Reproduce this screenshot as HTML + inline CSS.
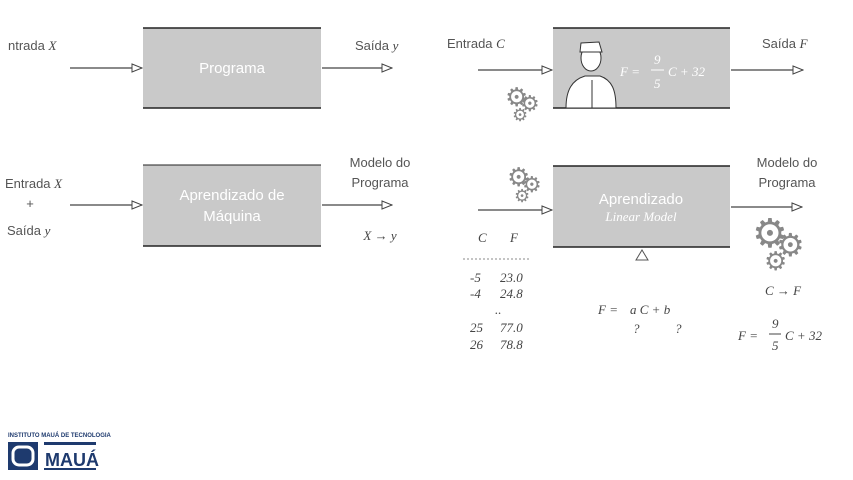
<!DOCTYPE html>
<html><head><meta charset="utf-8"><style>
html,body{margin:0;padding:0;background:#fff;width:853px;height:480px;overflow:hidden}
svg{display:block}
text{font-family:"Liberation Sans",sans-serif;}
.t{fill:#555;font-size:13px}
.w{fill:#fff;font-size:15px}
.m{font-family:"Liberation Serif",serif;font-style:italic;fill:#444;font-size:13px}
.g{fill:#888;font-family:"DejaVu Sans",sans-serif}
</style></head><body>
<svg width="853" height="480" viewBox="0 0 853 480" xmlns="http://www.w3.org/2000/svg">
<defs>
<marker id="a" markerWidth="12" markerHeight="10" refX="11" refY="5" orient="auto" markerUnits="userSpaceOnUse">
<path d="M1,1 L11,5 L1,9 Z" fill="#fff" stroke="#444" stroke-width="1"/>
</marker>
</defs>
<g>
<rect x="143" y="28" width="178" height="80" fill="#c9c9c9"/>
<line x1="143" y1="28" x2="321" y2="28" stroke="#222" stroke-width="1.5"/>
<line x1="143" y1="108" x2="321" y2="108" stroke="#222" stroke-width="1.5"/>
<rect x="143" y="165" width="178" height="81" fill="#c9c9c9"/>
<line x1="143" y1="165" x2="321" y2="165" stroke="#222" stroke-width="1"/>
<line x1="143" y1="246" x2="321" y2="246" stroke="#222" stroke-width="1.5"/>
<rect x="553" y="28" width="177" height="80" fill="#c9c9c9"/>
<line x1="553" y1="28" x2="730" y2="28" stroke="#222" stroke-width="1.5"/>
<line x1="553" y1="108" x2="730" y2="108" stroke="#222" stroke-width="1.5"/>
<rect x="553" y="166" width="177" height="81" fill="#c9c9c9"/>
<line x1="553" y1="166" x2="730" y2="166" stroke="#222" stroke-width="1.5"/>
<line x1="553" y1="247" x2="730" y2="247" stroke="#222" stroke-width="1.5"/>
</g>
<g stroke="#444" stroke-width="1.2" fill="none">
<line x1="70" y1="68" x2="142" y2="68" marker-end="url(#a)"/>
<line x1="322" y1="68" x2="392" y2="68" marker-end="url(#a)"/>
<line x1="70" y1="205" x2="142" y2="205" marker-end="url(#a)"/>
<line x1="322" y1="205" x2="392" y2="205" marker-end="url(#a)"/>
<line x1="478" y1="70" x2="552" y2="70" marker-end="url(#a)"/>
<line x1="731" y1="70" x2="803" y2="70" marker-end="url(#a)"/>
<line x1="478" y1="210" x2="552" y2="210" marker-end="url(#a)"/>
<line x1="731" y1="207" x2="802" y2="207" marker-end="url(#a)"/>
</g>
<path d="M636,260 L642,250 L648,260 Z" fill="#fff" stroke="#555" stroke-width="1"/>
<text class="t" x="8" y="50">ntrada <tspan class="m" font-size="14">X</tspan></text>
<text class="t" x="355" y="50">Saída <tspan class="m" font-size="14">y</tspan></text>
<text class="w" x="232" y="73" text-anchor="middle">Programa</text>
<text class="t" x="5" y="188">Entrada <tspan class="m" font-size="14">X</tspan></text>
<text class="t" x="30" y="208" text-anchor="middle">+</text>
<text class="t" x="7" y="235">Saída <tspan class="m" font-size="14">y</tspan></text>
<text class="w" x="232" y="200" text-anchor="middle">Aprendizado de</text>
<text class="w" x="232" y="221" text-anchor="middle">Máquina</text>
<text class="t" x="380" y="167" text-anchor="middle">Modelo do</text>
<text class="t" x="380" y="187" text-anchor="middle">Programa</text>
<text class="m" x="380" y="240" text-anchor="middle" font-size="14">X → y</text>
<text class="t" x="447" y="48">Entrada <tspan class="m" font-size="14">C</tspan></text>
<text class="t" x="762" y="48">Saída <tspan class="m" font-size="14">F</tspan></text>
<text class="m" x="620" y="76" style="fill:#fff" font-size="15">F =</text>
<text class="m" x="654" y="64" style="fill:#fff" font-size="13">9</text>
<line x1="651" y1="70" x2="664" y2="70" stroke="#fff"/>
<text class="m" x="654" y="88" style="fill:#fff" font-size="13">5</text>
<text class="m" x="668" y="76" style="fill:#fff" font-size="15">C + 32</text>
<g fill="#fff" stroke="#333" stroke-width="1">
<path d="M566,108 C566,90 572,80 585,76 L600,76 C612,80 616,90 616,108 Z"/>
<ellipse cx="591" cy="58" rx="10" ry="13"/>
<path d="M580,52 L581,43 L599,42 L602,52 Z" fill="#fff"/>
<line x1="592" y1="80" x2="592" y2="108"/>
</g>
<text class="g" x="505" y="106" font-size="26">⚙</text>
<text class="g" x="520" y="111" font-size="22">⚙</text>
<text class="g" x="512" y="121" font-size="18">⚙</text>
<text class="g" x="507" y="186" font-size="26">⚙</text>
<text class="g" x="522" y="192" font-size="22">⚙</text>
<text class="g" x="514" y="202" font-size="18">⚙</text>
<text class="g" x="752" y="247" font-size="40">⚙</text>
<text class="g" x="776" y="256" font-size="32">⚙</text>
<text class="g" x="764" y="270" font-size="26">⚙</text>
<text class="w" x="641" y="204" text-anchor="middle" style="fill:#fff">Aprendizado</text>
<text class="m" x="641" y="221" text-anchor="middle" style="fill:#fff" font-size="12">Linear Model</text>
<text class="t" x="787" y="167" text-anchor="middle">Modelo do</text>
<text class="t" x="787" y="187" text-anchor="middle">Programa</text>
<text class="m" x="478" y="242">C</text><text class="m" x="510" y="242">F</text>
<line x1="463" y1="259" x2="531" y2="259" stroke="#888" stroke-dasharray="2,2"/>
<text class="m" x="470" y="282">-5</text><text class="m" x="500" y="282">23.0</text>
<text class="m" x="470" y="298">-4</text><text class="m" x="500" y="298">24.8</text>
<text class="m" x="495" y="314">..</text>
<text class="m" x="470" y="332">25</text><text class="m" x="500" y="332">77.0</text>
<text class="m" x="470" y="349">26</text><text class="m" x="500" y="349">78.8</text>
<text class="m" x="598" y="314">F =</text>
<text class="m" x="630" y="314">a C + b</text>
<text class="m" x="633" y="333">?</text><text class="m" x="675" y="333">?</text>
<text class="m" x="783" y="295" text-anchor="middle" font-size="14">C → F</text>
<text class="m" x="738" y="340">F =</text>
<text class="m" x="772" y="328">9</text>
<line x1="769" y1="334" x2="781" y2="334" stroke="#444"/>
<text class="m" x="772" y="350">5</text>
<text class="m" x="785" y="340">C + 32</text>
<text x="8" y="437" font-size="6" font-weight="bold" fill="#1e3a6e" style="font-family:'Liberation Sans',sans-serif">INSTITUTO MAUÁ DE TECNOLOGIA</text>
<rect x="8" y="442" width="30" height="28" fill="#1e3a6e"/>
<rect x="13" y="447" width="20" height="18" rx="6" fill="none" stroke="#fff" stroke-width="3"/>
<rect x="44" y="442" width="52" height="3" fill="#1e3a6e"/>
<text x="45" y="466" font-size="18" font-weight="bold" fill="#1e3a6e" style="font-family:'Liberation Sans',sans-serif">MAUÁ</text>
<rect x="44" y="468" width="52" height="2" fill="#1e3a6e"/>
</svg>
</body></html>
